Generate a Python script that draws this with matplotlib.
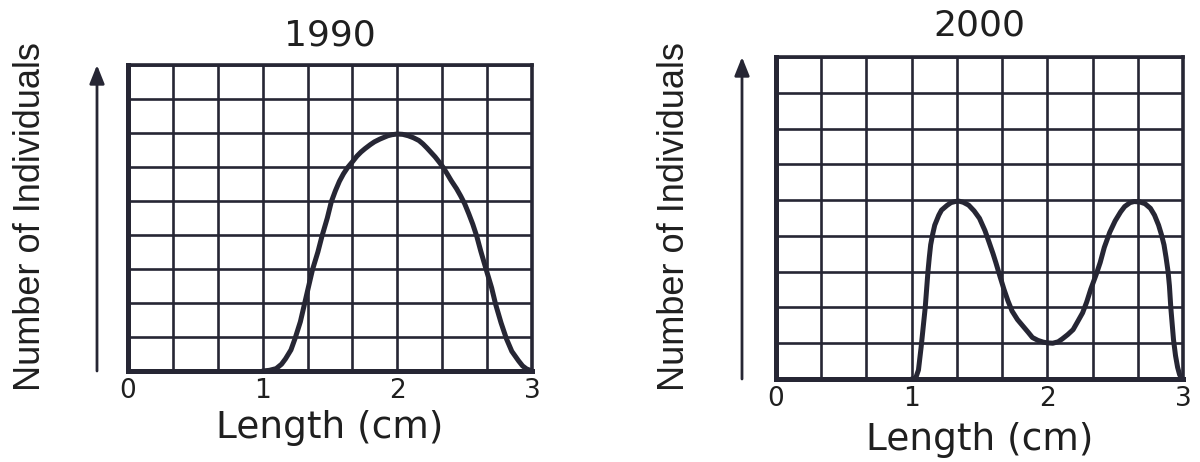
import numpy as np
import matplotlib
matplotlib.use("Agg")
import matplotlib.pyplot as plt

# ---- data ----
titles = ["1990", "2000"]
x_ticks = [0, 1, 2, 3]
x_tick_labels = ["0", "1", "2", "3"]
x_label = "Length (cm)"
y_label = "Number of Individuals"

x_1990 = [1.00, 1.05, 1.10, 1.14, 1.17, 1.21, 1.24, 1.28, 1.31, 1.34, 1.37, 1.41, 1.44, 1.48,
          1.51, 1.54, 1.57, 1.60, 1.63, 1.67, 1.70, 1.73, 1.76, 1.80, 1.83, 1.87, 1.90, 1.93,
          1.96, 2.00, 2.04, 2.08, 2.12, 2.16, 2.19, 2.22, 2.25, 2.28, 2.31, 2.34, 2.37, 2.40,
          2.44, 2.47, 2.50, 2.53, 2.56, 2.59, 2.62, 2.66, 2.70, 2.73, 2.77, 2.81, 2.85, 2.90,
          2.93, 2.96, 3.00]
y_1990 = [0.00, 0.02, 0.07, 0.20, 0.36, 0.62, 0.95, 1.45, 1.96, 2.47, 2.98, 3.50, 3.96, 4.50,
          4.98, 5.30, 5.58, 5.80, 5.98, 6.17, 6.32, 6.44, 6.54, 6.66, 6.74, 6.82, 6.87, 6.92,
          6.95, 6.97, 6.96, 6.92, 6.86, 6.78, 6.68, 6.56, 6.43, 6.30, 6.15, 5.99, 5.80, 5.60,
          5.36, 5.15, 4.92, 4.63, 4.32, 3.96, 3.52, 2.98, 2.45, 1.96, 1.42, 0.95, 0.58, 0.30,
          0.15, 0.06, 0.00]

x_2000 = [1.00, 1.03, 1.05, 1.07, 1.085, 1.10, 1.11, 1.12, 1.13, 1.14, 1.155, 1.17, 1.20,
          1.22, 1.26, 1.29, 1.32, 1.35, 1.38, 1.42, 1.46, 1.50, 1.54, 1.57, 1.60, 1.62, 1.65,
          1.68, 1.71, 1.74, 1.78, 1.82, 1.86, 1.89, 1.93, 1.97, 2.00, 2.04, 2.08, 2.11, 2.15,
          2.19, 2.22, 2.26, 2.29, 2.32, 2.36, 2.39, 2.42, 2.46, 2.50, 2.54, 2.57, 2.61, 2.64,
          2.68, 2.72, 2.76, 2.79, 2.82, 2.84, 2.86, 2.875, 2.89, 2.90, 2.91, 2.92, 2.93, 2.945,
          2.96, 2.975, 2.99]
y_2000 = [0.00, 0.03, 0.25, 0.90, 1.45, 2.00, 2.50, 3.00, 3.40, 3.75, 4.05, 4.30, 4.58,
          4.72, 4.85, 4.93, 4.96, 4.97, 4.94, 4.86, 4.70, 4.49, 4.15, 3.83, 3.50, 3.26, 2.88,
          2.51, 2.18, 1.90, 1.66, 1.48, 1.30, 1.16, 1.08, 1.03, 1.01, 1.00, 1.04, 1.12, 1.24,
          1.38, 1.58, 1.85, 2.15, 2.51, 2.92, 3.26, 3.68, 4.10, 4.42, 4.67, 4.82, 4.93, 4.96,
          4.95, 4.90, 4.77, 4.58, 4.30, 4.05, 3.75, 3.40, 3.00, 2.60, 2.00, 1.55, 1.10, 0.65,
          0.33, 0.12, 0.03]

curves_x = [x_1990, x_2000]
curves_y = [y_1990, y_2000]

# ---- style ----
INK = "#262634"
TEXT = "#1f1f1f"
W, H = 1200, 462
fig = plt.figure(figsize=(W / 100, H / 100), dpi=100)
fig.patch.set_facecolor("white")

# axes boxes in pixel coords: (left, top, right, bottom)
boxes = [(128, 65, 532, 371), (776, 57, 1183, 379)]
title_pad_px = [20, 22]
arrow_dx_px = [-31, -34]
ylab_x_px = [31, 675]

for i, (l, t, r, b) in enumerate(boxes):
    ax = fig.add_axes([l / W, 1 - b / H, (r - l) / W, (b - t) / H])
    ax.set_xlim(0, 3)
    ax.set_ylim(0, 9)
    ax.set_xticks(x_ticks)
    ax.set_xticklabels(x_tick_labels, fontsize=19, color=TEXT, family="DejaVu Sans")
    ax.set_xticks(np.arange(10) / 3, minor=True)
    ax.set_yticks(np.arange(10))
    ax.set_yticklabels([])
    ax.tick_params(which="both", length=0, pad=5)
    ax.grid(True, which="both", axis="x", color=INK, lw=1.9)
    ax.grid(True, which="major", axis="y", color=INK, lw=1.9)
    ax.set_axisbelow(True)
    for side, sp in ax.spines.items():
        sp.set_color(INK)
        sp.set_linewidth(3.6 if side in ("left", "bottom") else 2.6)

    ax.plot(curves_x[i], curves_y[i], color=INK, lw=3.6, solid_joinstyle="round",
            solid_capstyle="round", clip_on=False, zorder=5)

    ax.set_title(titles[i], fontsize=26, color=TEXT, family="DejaVu Sans",
                 pad=title_pad_px[i] / 1.389)
    hpx = b - t
    wpx = r - l
    ax.text(0.5, -(67 if i == 0 else 71) / hpx, x_label, transform=ax.transAxes,
            ha="center", va="baseline", fontsize=27, color=TEXT, family="DejaVu Sans")
    ax.text((ylab_x_px[i] - l) / wpx, 0.505, y_label, transform=ax.transAxes,
            rotation=90, ha="center", va="center", fontsize=26, color=TEXT,
            family=["Liberation Sans", "DejaVu Sans"])
    ax.annotate("", xy=(arrow_dx_px[i] / wpx, 1.0), xytext=(arrow_dx_px[i] / wpx, 0.0),
                xycoords="axes fraction", textcoords="axes fraction",
                arrowprops=dict(arrowstyle="-|>,head_length=0.7,head_width=0.28",
                                color=INK, lw=2.0, mutation_scale=16,
                                shrinkA=0, shrinkB=0))

fig.savefig("out.png", dpi=100, facecolor="white")
